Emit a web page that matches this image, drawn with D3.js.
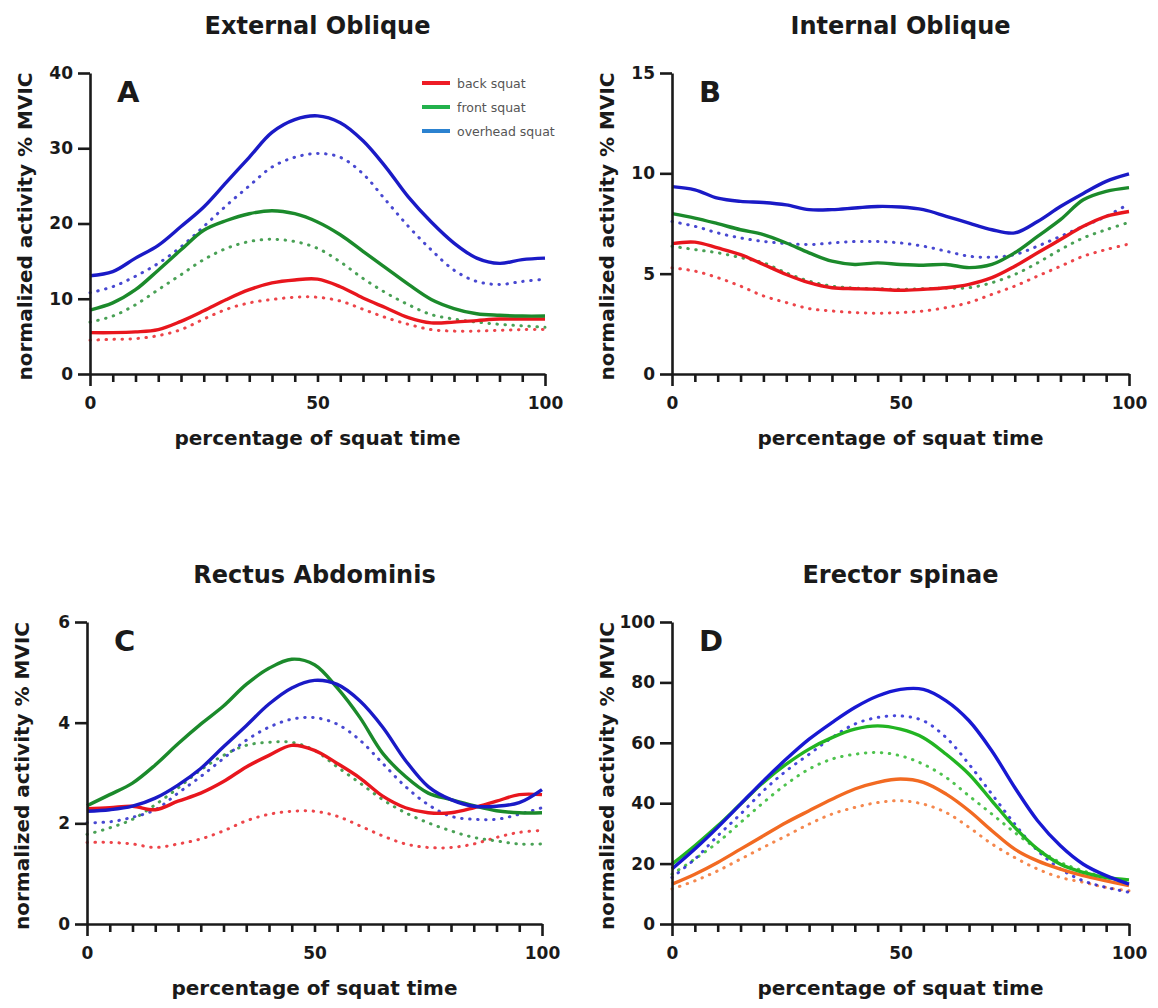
<!DOCTYPE html>
<html>
<head>
<meta charset="utf-8">
<script src="https://cdn.jsdelivr.net/npm/d3@7"></script>
<style>
  body { margin: 0; background: #fff; }
  svg { display: block; }
  text { font-family: "DejaVu Sans", Verdana, sans-serif; fill: #1a1a1a; }
</style>
</head>
<body>
<div id="chart"></div>
<script>
var pct = [0, 5, 10, 15, 20, 25, 30, 35, 40, 45, 50, 55, 60, 65, 70, 75, 80, 85, 90, 95, 100];

// External Oblique (A)
var eoBack     = [5.5, 5.5, 5.6, 5.9, 7.0, 8.4, 9.9, 11.2, 12.1, 12.5, 12.6, 11.6, 10.1, 8.8, 7.5, 6.8, 6.9, 7.1, 7.3, 7.3, 7.3];
var eoBackDot  = [4.5, 4.6, 4.7, 5.1, 5.9, 7.3, 8.6, 9.45, 9.9, 10.2, 10.2, 9.7, 8.6, 7.5, 6.6, 5.9, 5.7, 5.7, 5.8, 5.9, 5.9];
var eoFront    = [8.5, 9.45, 11.2, 13.8, 16.5, 19.1, 20.4, 21.3, 21.7, 21.3, 20.2, 18.5, 16.3, 14.1, 11.9, 9.9, 8.7, 8.0, 7.8, 7.7, 7.7];
var eoFrontDot = [6.9, 7.7, 9.2, 11.2, 13.2, 15.2, 16.7, 17.6, 17.9, 17.6, 16.7, 14.9, 12.7, 10.8, 9.2, 7.9, 7.3, 6.9, 6.6, 6.4, 6.2];
var eoOver     = [13.05, 13.6, 15.4, 17.1, 19.6, 22.2, 25.5, 28.8, 32.1, 33.8, 34.3, 33.4, 31.0, 27.5, 23.5, 20.2, 17.4, 15.4, 14.7, 15.2, 15.4];
var eoOverDot  = [10.8, 11.6, 13.0, 14.7, 16.9, 19.6, 22.4, 25.0, 27.5, 28.8, 29.3, 28.8, 26.6, 23.1, 19.6, 16.5, 13.8, 12.3, 11.9, 12.3, 12.6];

// Internal Oblique (B)
var ioBack     = [6.5, 6.57, 6.28, 5.95, 5.46, 4.96, 4.55, 4.3, 4.25, 4.22, 4.17, 4.22, 4.3, 4.47, 4.8, 5.37, 6.04, 6.7, 7.36, 7.86, 8.1];
var ioBackDot  = [5.29, 5.13, 4.8, 4.38, 3.89, 3.56, 3.26, 3.14, 3.06, 3.03, 3.06, 3.14, 3.31, 3.56, 3.97, 4.38, 4.88, 5.37, 5.87, 6.2, 6.48];
var ioFront    = [7.99, 7.77, 7.49, 7.19, 6.95, 6.53, 6.04, 5.62, 5.46, 5.54, 5.46, 5.42, 5.46, 5.3, 5.46, 6.04, 6.86, 7.69, 8.68, 9.1, 9.29];
var ioFrontDot = [6.37, 6.2, 6.04, 5.8, 5.54, 5.04, 4.63, 4.38, 4.28, 4.25, 4.22, 4.25, 4.28, 4.3, 4.55, 4.96, 5.54, 6.2, 6.78, 7.19, 7.56];
var ioOver     = [9.34, 9.18, 8.76, 8.6, 8.55, 8.43, 8.19, 8.19, 8.27, 8.35, 8.32, 8.19, 7.86, 7.52, 7.19, 7.03, 7.6, 8.35, 9.0, 9.6, 9.97];
var ioOverDot  = [7.6, 7.36, 7.03, 6.78, 6.61, 6.5, 6.45, 6.53, 6.6, 6.6, 6.53, 6.37, 6.12, 5.87, 5.82, 5.95, 6.37, 6.86, 7.36, 7.86, 8.48];

// Rectus Abdominis (C)
var raBack     = [2.29, 2.31, 2.34, 2.27, 2.44, 2.6, 2.83, 3.12, 3.35, 3.55, 3.45, 3.19, 2.9, 2.54, 2.31, 2.21, 2.21, 2.31, 2.44, 2.57, 2.57];
var raBackDot  = [1.62, 1.62, 1.59, 1.52, 1.59, 1.69, 1.85, 2.05, 2.18, 2.24, 2.24, 2.14, 1.95, 1.75, 1.59, 1.52, 1.52, 1.59, 1.72, 1.82, 1.86];
var raFront    = [2.35, 2.57, 2.8, 3.16, 3.58, 3.97, 4.33, 4.76, 5.08, 5.26, 5.15, 4.69, 4.1, 3.39, 2.93, 2.6, 2.47, 2.35, 2.25, 2.21, 2.21];
var raFrontDot = [1.78, 1.91, 2.08, 2.37, 2.7, 3.06, 3.35, 3.55, 3.61, 3.61, 3.45, 3.12, 2.8, 2.47, 2.21, 2.01, 1.85, 1.72, 1.65, 1.59, 1.59];
var raOver     = [2.24, 2.27, 2.34, 2.5, 2.76, 3.09, 3.52, 3.94, 4.37, 4.69, 4.84, 4.76, 4.43, 3.91, 3.25, 2.73, 2.47, 2.34, 2.34, 2.41, 2.67];
var raOverDot  = [2.01, 2.03, 2.12, 2.27, 2.6, 2.93, 3.29, 3.65, 3.91, 4.07, 4.1, 3.97, 3.65, 3.19, 2.73, 2.37, 2.14, 2.08, 2.08, 2.18, 2.31];

// Erector spinae (D)
var esBack     = [13.2, 16.5, 20.4, 24.8, 29.2, 33.6, 37.5, 41.3, 44.7, 46.9, 48.0, 46.9, 43.0, 37.5, 30.9, 24.8, 20.9, 18.2, 16.0, 14.3, 12.7];
var esBackDot  = [11.6, 14.3, 17.6, 21.5, 25.4, 29.2, 33.1, 36.4, 38.6, 40.2, 40.8, 39.7, 36.9, 32.0, 26.5, 22.0, 18.2, 15.4, 13.8, 12.1, 11.0];
var esFront    = [19.8, 25.9, 32.5, 39.7, 46.9, 52.9, 57.9, 61.7, 64.5, 65.6, 64.5, 61.7, 56.2, 49.6, 40.8, 32.0, 24.8, 19.8, 17.1, 15.4, 14.6];
var esFrontDot = [16.5, 21.5, 27.0, 33.6, 40.2, 46.3, 51.3, 54.6, 56.2, 56.8, 55.7, 52.9, 48.5, 42.4, 36.4, 30.3, 24.8, 20.4, 17.6, 15.4, 13.8];
var esOver     = [18.2, 24.8, 32.0, 39.7, 47.4, 54.6, 61.2, 66.7, 71.7, 75.5, 77.7, 77.7, 73.9, 67.3, 57.3, 45.2, 34.2, 25.9, 19.8, 16.0, 13.2];
var esOverDot  = [15.4, 21.5, 29.2, 36.4, 44.1, 50.7, 56.2, 61.7, 66.2, 68.4, 68.9, 67.3, 61.7, 52.9, 43.0, 33.1, 24.3, 18.2, 14.3, 12.1, 10.5];

var titles = ['External Oblique', 'Internal Oblique', 'Rectus Abdominis', 'Erector spinae'];
var letters = ['A', 'B', 'C', 'D'];
var yMaxes = [40, 15, 6, 100];
var yTickVals = [[0, 10, 20, 30, 40], [0, 5, 10, 15], [0, 2, 4, 6], [0, 20, 40, 60, 80, 100]];
var xMinorTicks = [0, 5, 10, 15, 20, 25, 30, 35, 40, 45, 50, 55, 60, 65, 70, 75, 80, 85, 90, 95, 100];
var xMajorTicks = [0, 50, 100];
var legendNames = ['back squat', 'front squat', 'overhead squat'];
var xTitle = 'percentage of squat time';
var yTitle = 'normalized activity % MVIC';

var colorsABC = ['#e8161d', '#1b8a2b', '#1a1ac6'];
var colorsD = ['#f26a22', '#22b422', '#1818d2'];
var legendColors = ['#ee1c25', '#22b14c', '#2b82d0'];

var panelData = [
    [eoBack, eoBackDot, eoFront, eoFrontDot, eoOver, eoOverDot],
    [ioBack, ioBackDot, ioFront, ioFrontDot, ioOver, ioOverDot],
    [raBack, raBackDot, raFront, raFrontDot, raOver, raOverDot],
    [esBack, esBackDot, esFront, esFrontDot, esOver, esOverDot]
];

var boxes = [
    {left: 90, right: 545, top: 73, bottom: 374},
    {left: 672, right: 1129, top: 73, bottom: 374},
    {left: 87, right: 542, top: 622, bottom: 924},
    {left: 672, right: 1129, top: 622, bottom: 924}
];

var svg = d3.select('#chart').append('svg')
    .attr('width', 1158)
    .attr('height', 1008);

function drawPanel(i) {
    var b = boxes[i];
    var x = d3.scaleLinear().domain([0, 100]).range([b.left, b.right]);
    var y = d3.scaleLinear().domain([0, yMaxes[i]]).range([b.bottom, b.top]);
    var colors = i === 3 ? colorsD : colorsABC;
    var g = svg.append('g');

    var line = d3.line()
        .x((d, j) => x(pct[j]))
        .y((d) => y(d))
        .curve(d3.curveCatmullRom.alpha(0.5));

    // dotted first, then solid on top
    [1, 3, 5].forEach((k) => {
        g.append('path')
            .attr('d', line(panelData[i][k]))
            .attr('fill', 'none')
            .attr('stroke', colors[(k - 1) / 2])
            .attr('stroke-width', 3)
            .attr('stroke-dasharray', '0.5 7.5')
            .attr('stroke-linecap', 'round')
            .attr('opacity', 0.8);
    });
    [0, 2, 4].forEach((k) => {
        g.append('path')
            .attr('d', line(panelData[i][k]))
            .attr('fill', 'none')
            .attr('stroke', colors[k / 2])
            .attr('stroke-width', 3.4)
            .attr('stroke-linejoin', 'round');
    });

    var yAxis = g.append('g')
        .attr('transform', `translate(${b.left},0)`)
        .call(d3.axisLeft(y).tickValues(yTickVals[i]).tickSize(12).tickSizeOuter(0).tickPadding(5)
            .tickFormat(d3.format('d')));
    var xAxis = g.append('g')
        .attr('transform', `translate(0,${b.bottom})`)
        .call(d3.axisBottom(x).tickValues(xMinorTicks).tickSize(8).tickSizeOuter(0).tickPadding(15)
            .tickFormat((d) => xMajorTicks.indexOf(d) >= 0 ? d : ''));
    xAxis.selectAll('.tick line')
        .attr('y2', (d) => (d === 0 || d === 100) ? 12 : 8);

    [yAxis, xAxis].forEach((a) => {
        a.selectAll('path, line').attr('stroke', '#1a1a1a').attr('stroke-width', 2.6);
        a.selectAll('text')
            .attr('font-family', '"DejaVu Sans", Verdana, sans-serif')
            .attr('font-size', 17)
            .attr('font-weight', 'bold')
            .attr('fill', '#1a1a1a');
    });

    // panel title
    g.append('text')
        .attr('x', (b.left + b.right) / 2)
        .attr('y', b.top - 39)
        .attr('text-anchor', 'middle')
        .attr('font-size', 24)
        .attr('font-weight', 'bold')
        .text(titles[i]);

    // panel letter
    g.append('text')
        .attr('x', b.left + 27)
        .attr('y', b.top + 29)
        .attr('font-size', 29)
        .attr('font-weight', 'bold')
        .text(letters[i]);

    // axis titles
    g.append('text')
        .attr('x', (b.left + b.right) / 2)
        .attr('y', b.bottom + 71)
        .attr('text-anchor', 'middle')
        .attr('font-size', 20)
        .attr('font-weight', 'bold')
        .text(xTitle);

    g.append('text')
        .attr('transform', `translate(${b.left - 58},${(b.top + b.bottom) / 2 + 3}) rotate(-90)`)
        .attr('text-anchor', 'middle')
        .attr('font-size', 20)
        .attr('font-weight', 'bold')
        .text(yTitle);
}

[0, 1, 2, 3].forEach(drawPanel);

// legend in panel A
var legend = svg.append('g').attr('transform', 'translate(422,83)');
legendNames.forEach((name, k) => {
    legend.append('line')
        .attr('x1', 0).attr('x2', 28)
        .attr('y1', k * 24).attr('y2', k * 24)
        .attr('stroke', legendColors[k])
        .attr('stroke-width', 4);
    legend.append('text')
        .attr('x', 35)
        .attr('y', k * 24 + 4.5)
        .attr('font-size', 12.5)
        .style('fill', '#555')
        .text(name);
});
</script>
</body>
</html>
